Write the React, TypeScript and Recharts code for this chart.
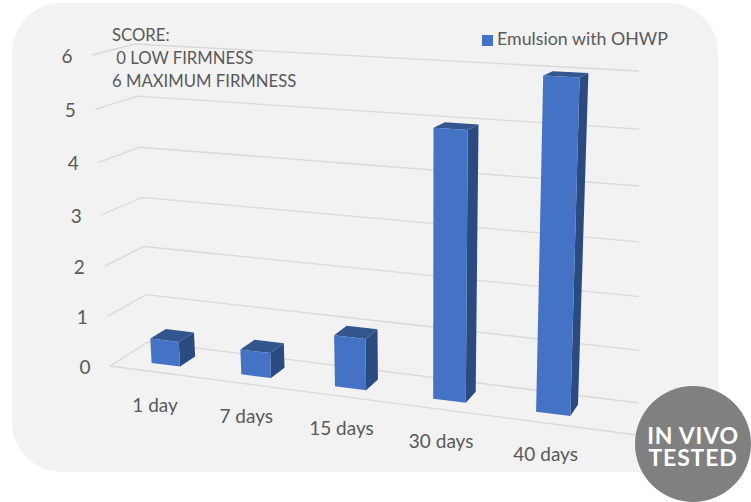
import { BarChart, Bar, XAxis, YAxis, CartesianGrid, Legend } from 'recharts'

const categories = ['1 day', '7 days', '15 days', '30 days', '40 days']
const scores = [0.5, 0.5, 1, 5, 6]
const yTicks = [0, 1, 2, 3, 4, 5, 6]
const seriesName = 'Emulsion with OHWP'
const noteLines = ['SCORE:', '\u00a00 LOW FIRMNESS', '6 MAXIMUM FIRMNESS']

const data = categories.map((name, i) => ({ name, score: scores[i] }))

const textColor = '#595959'
const font = 'Lato, sans-serif'

// plot rect that recharts lays out in, everything below warps it into the fake 3d view
const plot = { left: 110, right: 639, top: 55, bottom: 366 }
const toU = (x: number) => (x - plot.left) / (plot.right - plot.left)
const toV = (y: number) => (plot.bottom - y) / (plot.bottom - plot.top)
const lerp = (a: number, b: number, t: number) => a + (b - a) * t
const warp = (v: number) => v / (1 + 0.06 * (1 - v))

type Pt = [number, number]

// unit square -> quad (bottom left, bottom right, top right, top left)
function quadMap([p0, p1, p2, p3]: Pt[]) {
  const dx1 = p1[0] - p2[0]
  const dx2 = p3[0] - p2[0]
  const sx = p0[0] - p1[0] + p2[0] - p3[0]
  const dy1 = p1[1] - p2[1]
  const dy2 = p3[1] - p2[1]
  const sy = p0[1] - p1[1] + p2[1] - p3[1]
  const den = dx1 * dy2 - dx2 * dy1
  const g = (sx * dy2 - dx2 * sy) / den
  const h = (dx1 * sy - sx * dy1) / den
  const a = p1[0] - p0[0] + g * p1[0]
  const b = p3[0] - p0[0] + h * p3[0]
  const d = p1[1] - p0[1] + g * p1[1]
  const e = p3[1] - p0[1] + h * p3[1]
  return (u: number, v: number): Pt => {
    const w = g * u + h * v + 1
    return [(a * u + b * v + p0[0]) / w, (d * u + e * v + p0[1]) / w]
  }
}

const barFront = quadMap([[122, 359.2], [606.8, 420.7], [618.7, 79.4], [104, 53.6]])
const barBack = quadMap([[138, 349.2], [613.8, 409.2], [626.7, 75.1], [121, 49.1]])

const path = (pts: Pt[]) => 'M' + pts.map((p) => `${p[0].toFixed(1)},${p[1].toFixed(1)}`).join('L') + 'Z'

function Bar3D(props: any) {
  const { x, y, width, height } = props
  const u0 = toU(x)
  const u1 = toU(x + width)
  const v0 = toV(y + height)
  const v1 = toV(y)
  const fbl = barFront(u0, v0)
  const fbr = barFront(u1, v0)
  const ftr = barFront(u1, v1)
  const ftl = barFront(u0, v1)
  const bbr = barBack(u1, v0)
  const btr = barBack(u1, v1)
  const btl = barBack(u0, v1)
  return (
    <g>
      <path d={path([fbr, bbr, btr, ftr])} fill="#2A4A80" />
      <path d={path([ftl, ftr, btr, btl])} fill="#33568F" />
      <path d={path([fbl, fbr, ftr, ftl])} fill="#4472C4" />
    </g>
  )
}

function GridLine(props: any) {
  const t = warp(toV(props.y1))
  const front: Pt = [lerp(110, 92, t), lerp(366, 55, t)]
  const backL: Pt = [lerp(148, 135, t), lerp(342, 44, t)]
  const backR: Pt = [639, lerp(403, 71, t)]
  const pts = [front, backL, backR].map((p) => p.join(',')).join(' ')
  return (
    <g>
      <polyline points={pts} fill="none" stroke="#D9D9D9" strokeWidth={1.3} />
      {t === 0 && <line x1={110} y1={366} x2={660} y2={438} stroke="#D9D9D9" strokeWidth={1.3} />}
    </g>
  )
}

function YTick(props: any) {
  const t = warp(props.payload.value / 6)
  return (
    <text
      x={lerp(110, 92, t) - 25}
      y={lerp(366, 55, t)}
      textAnchor="middle"
      dominantBaseline="central"
      fill={textColor}
      fontSize={19}
      fontFamily={font}
    >
      {props.payload.value}
    </text>
  )
}

function XTick(props: any) {
  const u = toU(props.x)
  const p = barFront(u, 0)
  return (
    <text
      x={p[0] - 11 + 4 * u}
      y={p[1] + 39.5}
      textAnchor="middle"
      dominantBaseline="central"
      fill={textColor}
      fontSize={19}
      fontFamily={font}
    >
      {props.payload.value}
    </text>
  )
}

export default function App() {
  return (
    <div style={{ position: 'absolute', left: 0, top: 0, width: 751, height: 502, overflow: 'hidden', background: '#fff', fontFamily: font }}>
      <div style={{ position: 'absolute', left: 12, top: 3, width: 706, height: 469, background: '#F2F2F2', borderRadius: 50 }} />
      <div style={{ position: 'absolute', left: 0, top: 0 }}>
        <BarChart
          width={751}
          height={502}
          data={data}
          margin={{ top: plot.top, left: 50, right: 751 - plot.right, bottom: 96 }}
          barCategoryGap="34%"
        >
          <CartesianGrid vertical={false} horizontal={GridLine as any} />
          <XAxis dataKey="name" height={40} axisLine={false} tickLine={false} interval={0} tick={XTick as any} />
          <YAxis width={60} domain={[0, 6]} ticks={yTicks} axisLine={false} tickLine={false} tick={YTick as any} />
          <Legend
            layout="horizontal"
            align="center"
            verticalAlign="middle"
            iconType="square"
            iconSize={11}
            wrapperStyle={{ left: 465, top: 27, width: 230, padding: 0, textAlign: 'left', fontSize: 17.8, fontFamily: font }}
            formatter={(value) => <span style={{ color: textColor }}>{value}</span>}
          />
          <Bar dataKey="score" name={seriesName} fill="#4472C4" shape={Bar3D} isAnimationActive={false} />
        </BarChart>
      </div>
      <div style={{ position: 'absolute', left: 112, top: 24, fontSize: 16.7, lineHeight: '23px', color: textColor }}>
        {noteLines.map((line) => (
          <div key={line}>{line}</div>
        ))}
      </div>
      <div
        style={{
          position: 'absolute',
          left: 635,
          top: 386,
          width: 116,
          height: 116,
          borderRadius: '50%',
          background: '#808080',
          color: '#fff',
          fontWeight: 700,
          fontSize: 23,
          letterSpacing: 0.8,
          lineHeight: '22px',
          textAlign: 'center',
          paddingTop: 38,
          boxSizing: 'border-box',
        }}
      >
        IN VIVO
        <br />
        TESTED
      </div>
    </div>
  )
}
